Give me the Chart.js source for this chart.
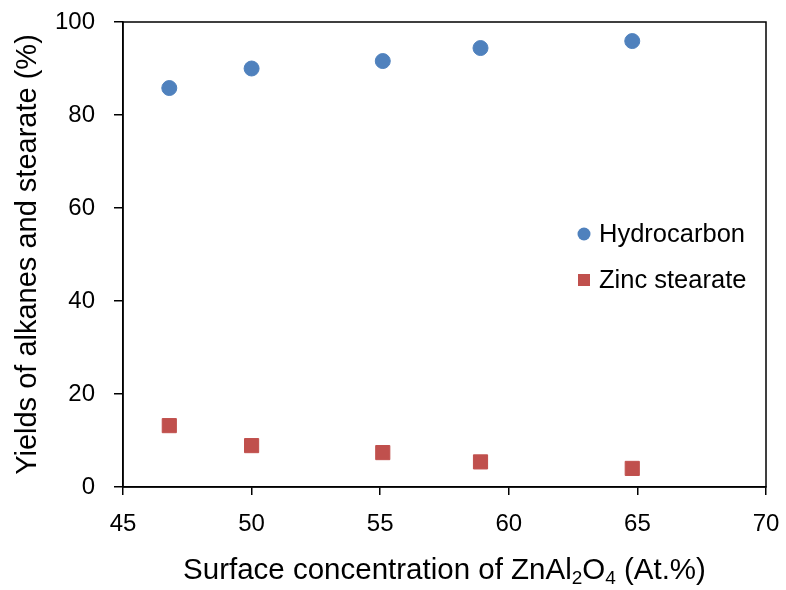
<!DOCTYPE html>
<html>
<head>
<meta charset="utf-8">
<script src="https://cdn.jsdelivr.net/npm/chart.js@4"></script>
<style>
  html, body { margin: 0; padding: 0; background: #fff; }
  #wrap { width: 786px; height: 590px; }
</style>
</head>
<body>
<div id="wrap"><canvas id="chart" width="786" height="590"></canvas></div>
<script>
// Data
const concentration = [46.8, 50.0, 55.1, 58.9, 64.8];
const hydrocarbonYield = [85.8, 90.0, 91.6, 94.4, 95.9];
const zincStearateYield = [13.2, 8.9, 7.4, 5.4, 4.0];
const xTicks = [45, 50, 55, 60, 65, 70];
const yTicks = [0, 20, 40, 60, 80, 100];

const FONT = 'Arial, "Liberation Sans", sans-serif';

const toPoints = (xs, ys) => xs.map((x, i) => ({ x: x, y: ys[i] }));

// Black frame around the plot area
const framePlugin = {
  id: 'frame',
  afterDatasetsDraw(chart) {
    const { ctx, chartArea: a } = chart;
    ctx.save();
    ctx.strokeStyle = '#000';
    ctx.lineWidth = 1.5;
    ctx.strokeRect(a.left, a.top, a.right - a.left, a.bottom - a.top);
    ctx.restore();
  }
};

// Legend drawn inside the plot area
const innerLegend = {
  id: 'innerLegend',
  afterDraw(chart) {
    const { ctx } = chart;
    const x = 584, y0 = 234, gap = 46;
    ctx.save();
    ctx.font = '25.5px ' + FONT;
    ctx.textBaseline = 'middle';
    chart.data.datasets.forEach((ds, i) => {
      const y = y0 + i * gap;
      ctx.fillStyle = ds.backgroundColor;
      if (ds.pointStyle === 'rect') {
        ctx.fillRect(x - 6, y - 6, 12, 12);
      } else {
        ctx.beginPath();
        ctx.arc(x, y, 6.5, 0, Math.PI * 2);
        ctx.fill();
      }
      ctx.fillStyle = '#000';
      ctx.fillText(ds.label, x + 15, y + 1);
    });
    ctx.restore();
  }
};

// X axis title with subscripts
const xTitle = {
  id: 'xTitle',
  afterDraw(chart) {
    const { ctx, chartArea: a } = chart;
    const parts = [
      ['Surface concentration of ZnAl', false],
      ['2', true],
      ['O', false],
      ['4', true],
      [' (At.%)', false]
    ];
    const big = '29.5px ' + FONT, small = '19px ' + FONT;
    ctx.save();
    ctx.fillStyle = '#000';
    ctx.textBaseline = 'alphabetic';
    let total = 0;
    parts.forEach(([t, sub]) => {
      ctx.font = sub ? small : big;
      total += ctx.measureText(t).width;
    });
    let x = (a.left + a.right) / 2 - total / 2;
    const base = 579;
    parts.forEach(([t, sub]) => {
      ctx.font = sub ? small : big;
      ctx.fillText(t, x, sub ? base + 5 : base);
      x += ctx.measureText(t).width;
    });
    ctx.restore();
  }
};

new Chart(document.getElementById('chart'), {
  type: 'scatter',
  data: {
    datasets: [
      {
        label: 'Hydrocarbon',
        data: toPoints(concentration, hydrocarbonYield),
        backgroundColor: '#4F81BD',
        borderColor: '#4F81BD',
        pointStyle: 'circle',
        pointRadius: 7.5,
        pointHoverRadius: 7.5
      },
      {
        label: 'Zinc stearate',
        data: toPoints(concentration, zincStearateYield),
        backgroundColor: '#C0504D',
        borderColor: '#C0504D',
        pointStyle: 'rect',
        pointRadius: 10,
        pointHoverRadius: 10
      }
    ]
  },
  options: {
    responsive: false,
    animation: false,
    devicePixelRatio: 1,
    layout: { padding: { left: 0, top: 22, right: 20, bottom: 0 } },
    plugins: {
      legend: { display: false },
      tooltip: { enabled: false }
    },
    scales: {
      x: {
        type: 'linear',
        min: 45,
        max: 70,
        afterBuildTicks: (s) => { s.ticks = xTicks.map(v => ({ value: v })); },
        afterFit: (s) => { s.height = 103; s.paddingLeft = 0; s.paddingRight = 0; },
        grid: { drawOnChartArea: false, color: '#000', tickLength: 8, lineWidth: 1.5 },
        border: { color: '#000', width: 1.5 },
        ticks: { color: '#000', font: { family: FONT, size: 24 }, padding: 15, maxRotation: 0 },
        title: { display: false }
      },
      y: {
        type: 'linear',
        min: 0,
        max: 100,
        afterBuildTicks: (s) => { s.ticks = yTicks.map(v => ({ value: v })); },
        afterFit: (s) => { s.width = 123; s.paddingTop = 0; s.paddingBottom = 0; },
        grid: { drawOnChartArea: false, color: '#000', tickLength: 9, lineWidth: 1.5 },
        border: { color: '#000', width: 1.5 },
        ticks: { color: '#000', font: { family: FONT, size: 24 }, padding: 19 },
        title: {
          display: true,
          text: 'Yields of alkanes and stearate (%)',
          color: '#000',
          font: { family: FONT, size: 29 },
          padding: { top: 11, bottom: 0 }
        }
      }
    }
  },
  plugins: [framePlugin, innerLegend, xTitle]
});
</script>
</body>
</html>
